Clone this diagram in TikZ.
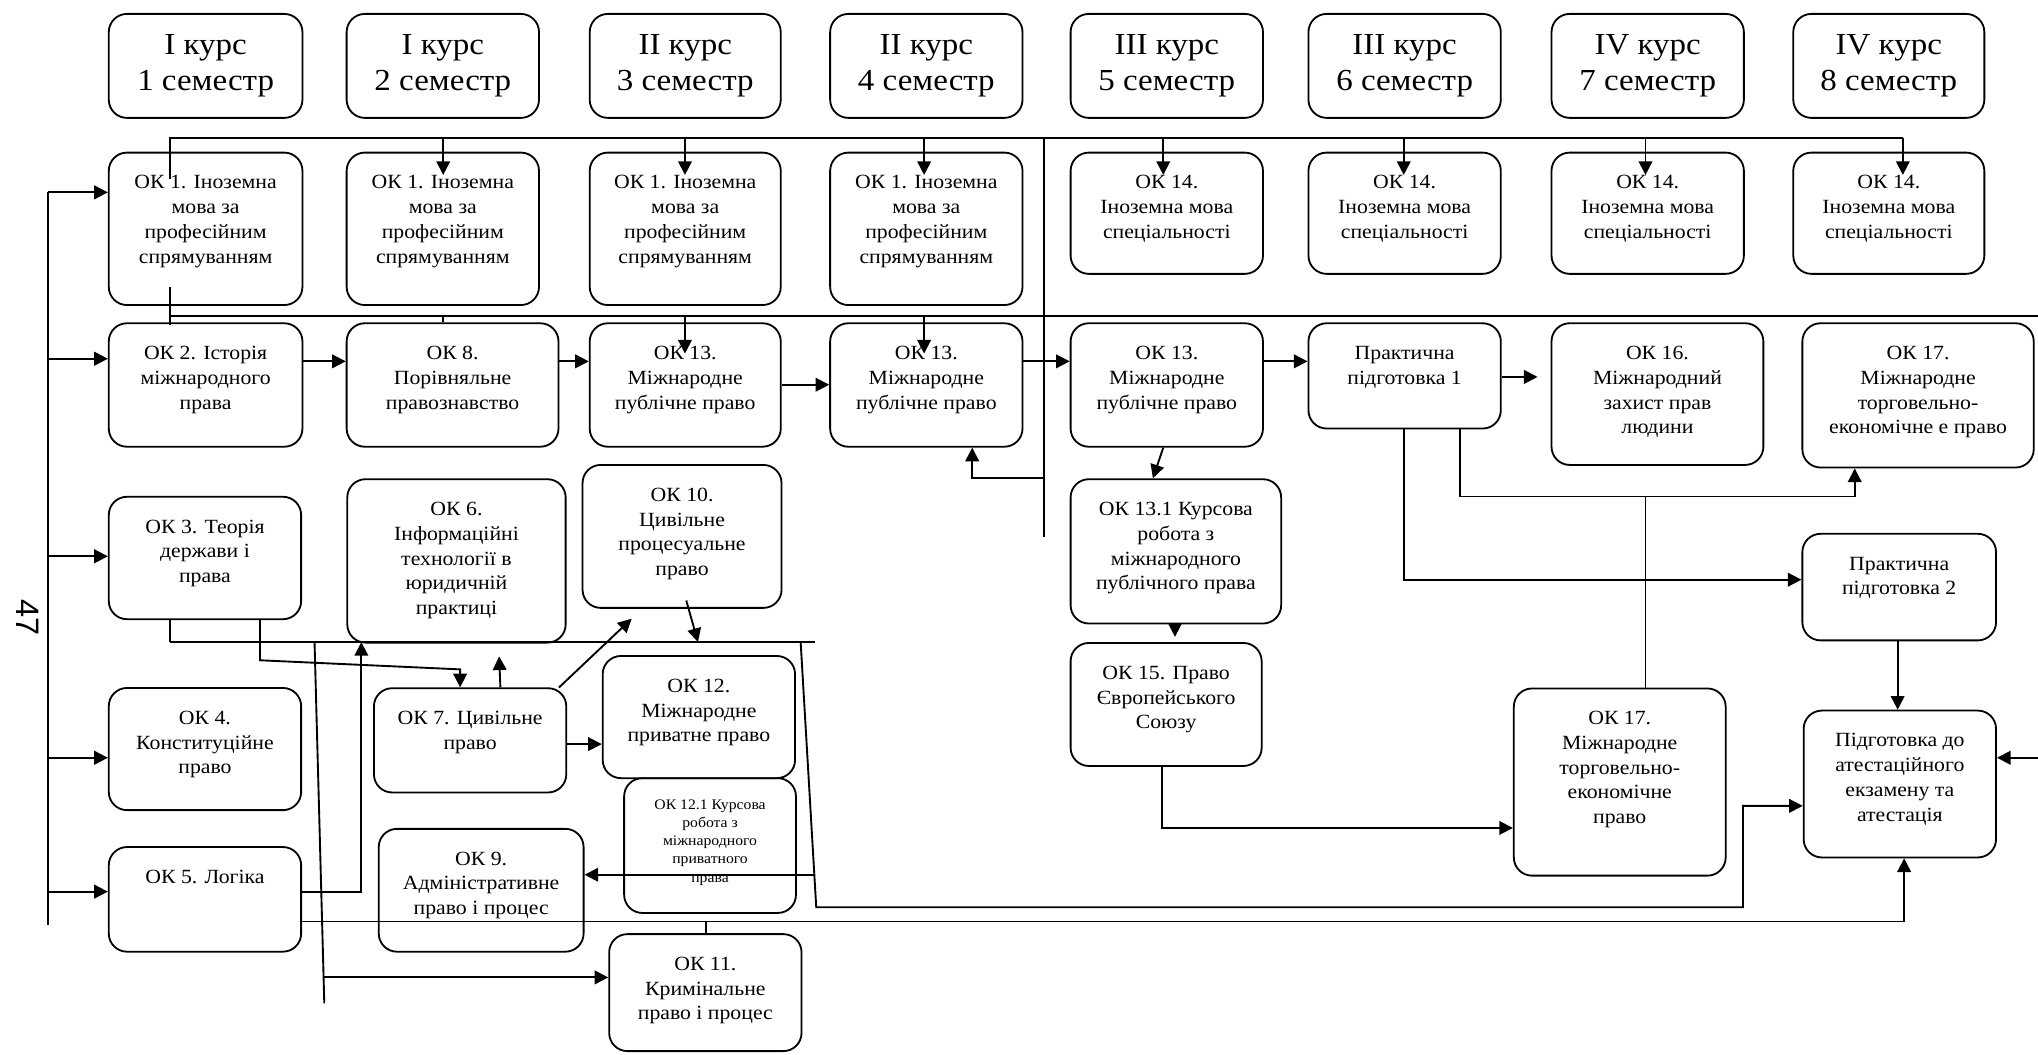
\documentclass[tikz,border=0pt]{standalone}
\usepackage{fontspec}
\setmainfont{Liberation Serif}[FakeStretch=1.08]
\newfontfamily\pgnumfont{Liberation Sans}
\usetikzlibrary{arrows.meta}
\newcommand\bxfont{\fontsize{15.5}{19}\selectfont}
\newcommand\smfont{\fontsize{11.2}{14}\selectfont}
\newcommand\ttlfont{\fontsize{23.5}{28}\selectfont}
\tikzset{
  box/.style={draw, line width=1.4pt, rounded corners=14pt, inner sep=0pt},
  ln/.style={line width=1.45pt},
  arr/.style={ln, -{Triangle[length=10.5pt,width=10.5pt]}},
}
% box with top-aligned text: [strut] name x1 y1 x2 y2 text
\newcommand\bx[7][28]{%
  \pgfmathsetmacro\bw{#5-#3}\pgfmathsetmacro\bh{#6-#4}%
  \node[box, anchor=north west] (#2) at (#3,#4)
    {\parbox[c][\bh pt][t]{\bw pt}{\centering\bxfont\rule{0pt}{#1pt}#7\par}};}
% title box: name x1 x2 text
\newcommand\tb[4]{%
  \pgfmathsetmacro\bw{#3-#2}%
  \node[box, anchor=north west, minimum width=\bw pt, minimum height=80pt,
        align=center, font=\ttlfont] (#1) at (#2,10) {#4};}
\begin{document}
\begin{tikzpicture}[x=1pt,y=-1pt]
\useasboundingbox (0,0) rectangle (1568,811);
% ---------- titles
\tb{T1}{83}{232}{I курс\\1 семестр}
\tb{T2}{266}{414}{I курс\\2 семестр}
\tb{T3}{453}{600}{II курс\\3 семестр}
\tb{T4}{638}{786}{II курс\\4 семестр}
\tb{T5}{823}{971}{III курс\\5 семестр}
\tb{T6}{1006}{1154}{III курс\\6 семестр}
\tb{T7}{1193}{1341}{IV курс\\7 семестр}
\tb{T8}{1379}{1526}{IV курс\\8 семестр}
% ---------- row 2
\bx{A1}{83}{116.7}{232}{234}{ОК 1. Іноземна\\мова за\\професійним\\спрямуванням}
\bx{A2}{266}{116.7}{414}{234}{ОК 1. Іноземна\\мова за\\професійним\\спрямуванням}
\bx{A3}{453}{116.7}{600}{234}{ОК 1. Іноземна\\мова за\\професійним\\спрямуванням}
\bx{A4}{638}{116.7}{786}{234}{ОК 1. Іноземна\\мова за\\професійним\\спрямуванням}
\bx{B5}{823}{116.7}{971}{210}{ОК 14.\\Іноземна мова\\спеціальності}
\bx{B6}{1006}{116.7}{1154}{210}{ОК 14.\\Іноземна мова\\спеціальності}
\bx{B7}{1193}{116.7}{1341}{210}{ОК 14.\\Іноземна мова\\спеціальності}
\bx{B8}{1379}{116.7}{1526}{210}{ОК 14.\\Іноземна мова\\спеціальності}
% ---------- row 3
\bx{OK2}{83}{248}{232}{343}{ОК 2. Історія\\міжнародного\\права}
\bx{OK8}{266}{248}{429}{343}{ОК 8.\\Порівняльне\\правознавство}
\bx{C13a}{453}{248}{600}{343}{ОК 13.\\Міжнародне\\публічне право}
\bx{C13b}{638}{248}{786}{343}{ОК 13.\\Міжнародне\\публічне право}
\bx{C13c}{823}{248}{971}{343}{ОК 13.\\Міжнародне\\публічне право}
\bx{P1}{1006}{248}{1154}{329}{Практична\\підготовка 1}
\bx{OK16}{1193}{248}{1356}{357}{ОК 16.\\Міжнародний\\захист прав\\людини}
\bx{OK17t}{1386}{248}{1564}{359}{ОК 17.\\Міжнародне\\торговельно-\\економічне е право}
% ---------- lower part
\bx{OK3}{83}{381.5}{231}{475.7}{ОК 3. Теорія\\держави і\\права}
\bx{OK6}{266.5}{368}{434.5}{493.7}{ОК 6.\\Інформаційні\\технології в\\юридичній\\практиці}
\bx{OK10}{447.5}{357}{600.6}{467}{ОК 10.\\Цивільне\\процесуальне\\право}
\bx{C131}{823}{368}{985}{479}{ОК 13.1 Курсова\\робота з\\міжнародного\\публічного права}
\bx{P2}{1386}{410}{1535}{492}{Практична\\підготовка 2}
\bx{OK4}{83}{528.6}{231}{622.6}{ОК 4.\\Конституційне\\право}
\bx{OK7}{287}{528.8}{435}{609}{ОК 7. Цивільне\\право}
\bx{OK12}{463}{504}{611}{598}{ОК 12.\\Міжнародне\\приватне право}
\bx[24]{OK121}{479.5}{598}{611.7}{701.7}{\smfont ОК 12.1 Курсова\\робота з\\міжнародного\\приватного\\права}
\bx{OK15}{823}{494}{970}{588.6}{ОК 15. Право\\Європейського\\Союзу}
\bx{OK17b}{1164}{529}{1327}{673}{ОК 17.\\Міжнародне\\торговельно-\\економічне\\право}
\bx{PA}{1387}{546}{1535}{659}{Підготовка до\\атестаційного\\екзамену та\\атестація}
\bx{OK5}{83}{651}{231}{731.5}{ОК 5. Логіка}
\bx{OK9}{290.7}{637}{448.3}{731.5}{ОК 9.\\Адміністративне\\право і процес}
\bx{OK11}{468}{718}{616}{808}{ОК 11.\\Кримінальне\\право і процес}
% ---------- page number
\node[rotate=-90, font=\pgnumfont\fontsize{25}{25}\selectfont] (pg) at (21,475) {47};
% ---------- left bus
\draw[ln] (37,712) -- (37,148);
\foreach \yy/\n in {148/A1,276/OK2,428/OK3,583/OK4,686/OK5}
  \draw[arr] (37,\yy) -- (\n.west |- 37,\yy);
% ---------- top bus
\draw[ln] (131,138) -- (131,106) -- (1464,106);
\foreach \xx in {341,527,711,895,1080,1266,1464}
  \draw[arr] (\xx,106) -- (\xx,134.6);
\draw[ln] (803,106) -- (803,413);
% ---------- second bus
\draw[ln] (131,243) -- (1568,243);
\draw[ln] (131,221) -- (131,250);
\draw[ln] (341,243) -- (OK8.north -| 341,0);
\draw[arr] (527,243) -- (527,272);
\draw[arr] (711,243) -- (711,272);
% ---------- row 3 chain
\draw[arr] (OK2.east |- 0,278) -- (OK8.west |- 0,278);
\draw[arr] (OK8.east |- 0,278) -- (C13a.west |- 0,278);
\draw[arr] (C13a.east |- 0,296) -- (C13b.west |- 0,296);
\draw[arr] (C13b.east |- 0,278) -- (C13c.west |- 0,278);
\draw[arr] (C13c.east |- 0,278) -- (P1.west |- 0,278);
\draw[arr] (P1.east |- 0,290) -- (1183,290);
\draw[arr] (803,368) -- (748,368) -- (C13b.south -| 748,0);
% ---------- right part
\draw[arr] (C13c.south -| 895,0) -- (C131.north -| 887,0);
\draw[arr] (C131.south -| 904,0) -- (904,490);
\draw[arr] (OK15.south -| 894,0) -- (894,637) -- (OK17b.west |- 0,637);
\draw[ln] (OK17b.north -| 1266,0) -- (1266,382);
\draw[arr] (P1.south -| 1123,0) -- (1123,382) -- (1427,382) -- (OK17t.south -| 1427,0);
\draw[arr] (P1.south -| 1080,0) -- (1080,446) -- (P2.west |- 0,446);
\draw[arr] (P2.south -| 1460,0) -- (PA.north -| 1460,0);
\draw[arr] (1568,583) -- (PA.east |- 0,583);
\draw[arr] (616,494) -- (628,698) -- (1341,698) -- (1341,620) -- (PA.west |- 0,620);
\draw[arr] (OK5.east |- 0,709) -- (1465,709) -- (PA.south -| 1465,0);
\draw[ln] (OK11.north -| 543,0) -- (543,709);
% ---------- left-middle part
\draw[ln] (131,494) -- (627,494);
\draw[ln] (OK3.south -| 131,0) -- (131,494);
\draw[arr] (OK3.south -| 200,0) -- (200,508) -- (354,515) -- (OK7.north -| 354,0);
\draw[ln] (242,494) -- (249.5,772);
\draw[arr] (249,752) -- (OK11.west |- 0,752);
\draw[arr] (OK5.east |- 0,686) -- (278,686) -- (278,494);
\draw[arr] (OK7.north -| 385,0) -- (384,505);
\draw[arr] (430,529) -- (486,476);
\draw[arr] (528,462) -- (537,494);
\draw[arr] (OK7.east |- 0,572.5) -- (OK12.west |- 0,572.5);
\draw[arr] (626.5,673) -- (OK9.east |- 0,673);
\end{tikzpicture}
\end{document}
